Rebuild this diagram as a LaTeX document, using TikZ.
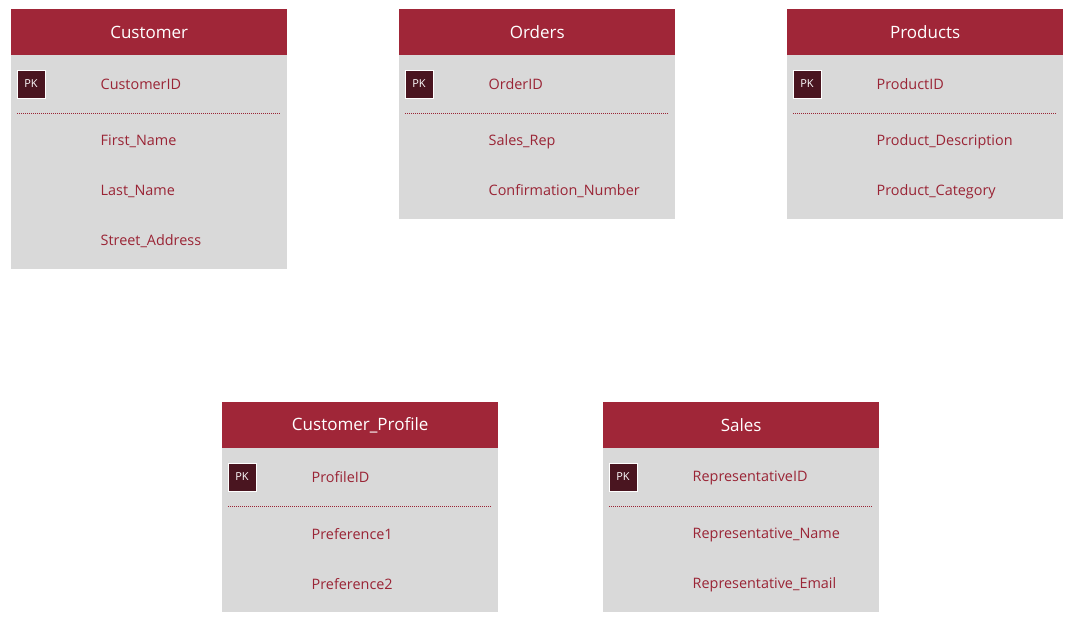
\documentclass[tikz,border=0pt]{standalone}
\usepackage{fontspec}
\setmainfont{Open Sans}
\definecolor{hdrred}{HTML}{A02638}
\definecolor{bodygray}{HTML}{D9D9D9}
\definecolor{pkdark}{HTML}{4A1520}
\definecolor{fieldred}{HTML}{9A2435}
\tikzset{
  hdr/.style={fill=hdrred, draw=none, minimum width=276pt, minimum height=46pt, anchor=north west, inner sep=0pt, text=white, font=\fontsize{17}{20}\selectfont},
  tbody/.style={fill=bodygray, draw=none, minimum width=276pt, anchor=north west, inner sep=0pt},
  pkbox/.style={fill=pkdark, draw=white, line width=0.6pt, minimum width=28pt, minimum height=28pt, inner sep=0pt, text=white, font=\fontsize{11}{13}\selectfont},
  fld/.style={anchor=west, inner sep=0pt, text=fieldred, font=\fontsize{14.4}{17}\selectfont},
  sepline/.style={draw=fieldred, dash pattern=on 1pt off 1pt, line width=0.6pt},
}
% #1 name, #2 left, #3 top, #4 title, #5 body height, #6 pk field
\newcommand{\ertable}[6]{%
  \node[tbody, minimum height=#5pt] (#1-b) at (#2,#3+46) {};
  \node[hdr] (#1-h) at (#2,#3) {#4};
  \node[pkbox] (#1-pk) at (#2+20,#3+75) {PK};
  \node[fld] (#1-f0) at (#2+89.5,#3+75.5) {#6};
  \coordinate (#1-sl) at (#2+6,#3+104);
  \coordinate (#1-sr) at (#2+269,#3+104);
  \draw[sepline] (#1-sl) -- (#1-sr);
}
\begin{document}
\begin{tikzpicture}[x=1pt,y=-1pt]
\useasboundingbox (0,0) rectangle (1071,620);
\ertable{cust}{11}{9}{Customer}{214}{CustomerID}
\node[fld] (cust-f1) at (100.5,141.5) {First\_Name};
\node[fld] (cust-f2) at (100.5,191.5) {Last\_Name};
\node[fld] (cust-f3) at (100.5,241.5) {Street\_Address};

\ertable{ord}{399}{9}{Orders}{164}{OrderID}
\node[fld] (ord-f1) at (488.5,141.5) {Sales\_Rep};
\node[fld] (ord-f2) at (488.5,191.5) {Confirmation\_Number};

\ertable{prod}{787}{9}{Products}{164}{ProductID}
\node[fld] (prod-f1) at (876.5,141.5) {Product\_Description};
\node[fld] (prod-f2) at (876.5,191.5) {Product\_Category};

\ertable{prof}{222}{402}{Customer\_Profile}{164}{ProfileID}
\node[fld] (prof-f1) at (311.5,534.5) {Preference1};
\node[fld] (prof-f2) at (311.5,584.5) {Preference2};

\ertable{sales}{603}{402}{Sales}{164}{RepresentativeID}
\node[fld] (sales-f1) at (692.5,534.5) {Representative\_Name};
\node[fld] (sales-f2) at (692.5,584.5) {Representative\_Email};
\end{tikzpicture}
\end{document}
